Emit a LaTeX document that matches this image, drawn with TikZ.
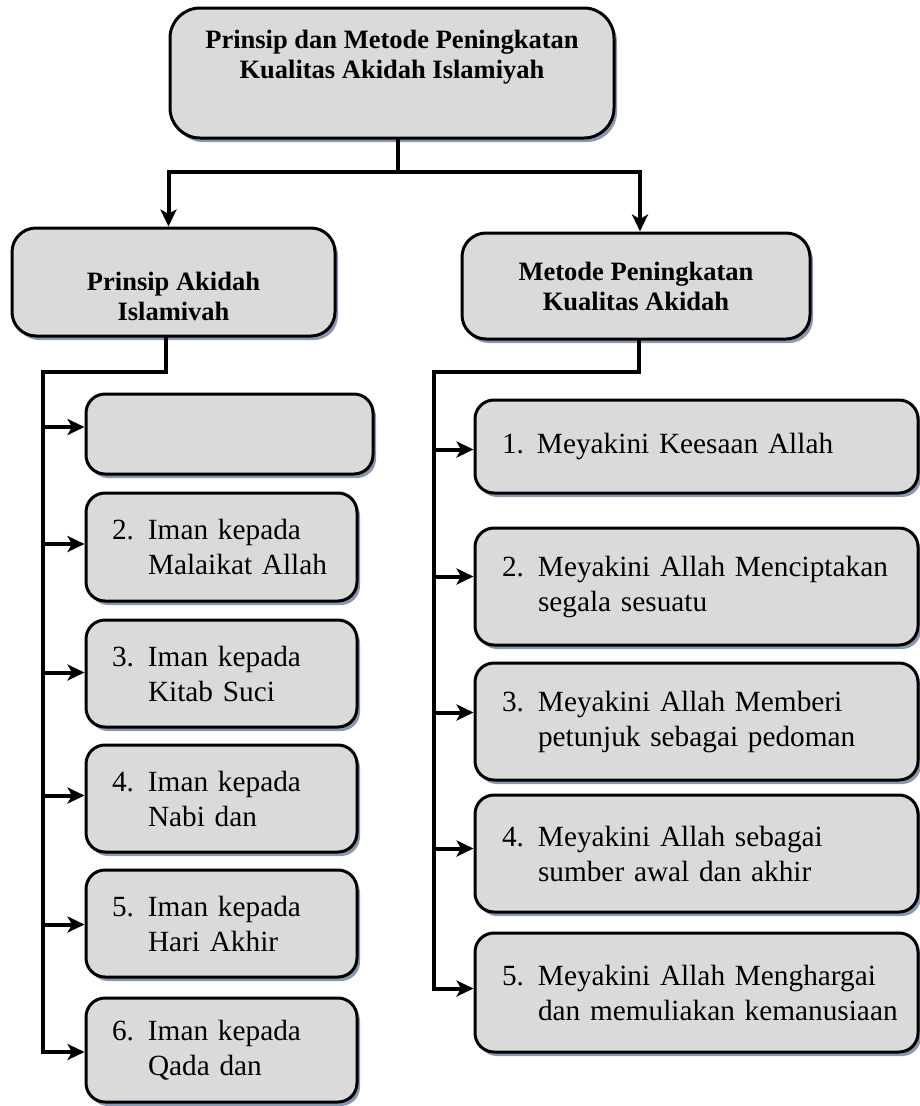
\documentclass[tikz,border=0pt]{standalone}
\usepackage{fontspec}
\setmainfont{Liberation Serif}
\usetikzlibrary{arrows.meta, positioning, shadows, calc}

\definecolor{boxfill}{RGB}{218,218,218}
\definecolor{shadowblue}{RGB}{138,151,176}

% numbered item text with hanging second line
\newcommand{\numone}[2]{\mbox{\makebox[35pt][l]{#1}#2}}
\newcommand{\numtwo}[3]{\mbox{\makebox[36pt][l]{#1}#2}\\\mbox{\hspace*{36pt}#3}}

\begin{document}
\begin{tikzpicture}[x=1pt, y=-1pt,
    box/.style={draw, line width=3pt, fill=boxfill, rounded corners=19pt,
        drop shadow={shadow xshift=3pt, shadow yshift=-4pt, fill=shadowblue, opacity=1}},
    headtext/.style={font=\fontsize{26.5pt}{30pt}\selectfont\bfseries, align=center},
    head/.style={box, headtext, rounded corners=24pt},
    item/.style={box, font=\fontsize{29.3pt}{35pt}\selectfont, align=left},
    conn/.style={line width=4pt, line cap=rect},
    arrowto/.style={-{Stealth[length=17pt, width=16pt, inset=4.5pt]}}]
    \useasboundingbox (0,0) rectangle (920,1106);

    % Title
    \node[box, rounded corners=30pt, minimum width=444pt, minimum height=130pt,
        label={[headtext, yshift=16pt]center:Prinsip dan Metode Peningkatan\\Kualitas Akidah Islamiyah}] (title) at (392,73) {};

    % Headings
    \node[head, minimum width=323pt, minimum height=108pt,
        label={[headtext, yshift=-14pt]center:Prinsip Akidah\\Islamivah}] (prinsip) at (173.5,282) {};
    \node[head, minimum width=348pt, minimum height=106pt] (metode) at (636,286) {Metode Peningkatan\\Kualitas Akidah};

    % Left column
    \node[item, inner xsep=26pt, text width=235pt, minimum height=80pt] (l1) at (229.5,434) {};
    \node[item, inner xsep=26pt, text width=219pt, minimum height=108pt] (l2) at (221.5,547) {\numtwo{2.}{Iman kepada}{Malaikat Allah}};
    \node[item, inner xsep=26pt, text width=219pt, minimum height=107pt] (l3) at (221.5,673.5) {\numtwo{3.}{Iman kepada}{Kitab Suci}};
    \node[item, inner xsep=26pt, text width=219pt, minimum height=107pt] (l4) at (221.5,798.5) {\numtwo{4.}{Iman kepada}{Nabi dan}};
    \node[item, inner xsep=26pt, text width=219pt, minimum height=107pt] (l5) at (221.5,923.5) {\numtwo{5.}{Iman kepada}{Hari Akhir}};
    \node[item, inner xsep=26pt, text width=219pt, minimum height=104pt] (l6) at (221.5,1050) {\numtwo{6.}{Iman kepada}{Qada dan}};

    % Right column
    \node[item, inner xsep=27pt, text width=389pt, minimum height=93pt] (r1) at (696.5,446.5) {\numone{1.}{Meyakini Keesaan Allah}};
    \node[item, inner xsep=27pt, text width=389pt, minimum height=117pt] (r2) at (696.5,586.5) {\numtwo{2.}{Meyakini Allah Menciptakan}{segala sesuatu}};
    \node[item, inner xsep=27pt, text width=389pt, minimum height=117pt] (r3) at (696.5,721.5) {\numtwo{3.}{Meyakini Allah Memberi}{petunjuk sebagai pedoman}};
    \node[item, inner xsep=27pt, text width=389pt, minimum height=117pt] (r4) at (696.5,853.5) {\numtwo{4.}{Meyakini Allah sebagai}{sumber awal dan akhir}};
    \node[item, inner xsep=27pt, text width=389pt, minimum height=119pt] (r5) at (696.5,992.5) {\numtwo{5.}{Meyakini Allah Menghargai}{dan memuliakan kemanusiaan}};

    % Top connectors
    \coordinate (tbus) at (398,172);
    \draw[conn] ([xshift=6pt]title.south) -- (tbus);
    \draw[conn, arrowto] (tbus) -| ([xshift=-5pt]prinsip.north);
    \draw[conn, arrowto] (tbus) -| ([xshift=4pt]metode.north);

    % Left bus
    \coordinate (lbus) at (43,372);
    \foreach \n/\s in {l1/7, l2/3, l3/1, l4/3, l5/-1, l6/-2}{
        \coordinate (\n-in) at ([yshift=\s pt]\n.west);
        \draw[conn, arrowto] (lbus |- \n-in) -- (\n-in);
    }
    \draw[conn] ([xshift=-8pt]prinsip.south) |- (lbus) -- (lbus |- l6-in);

    % Right bus
    \coordinate (rbus) at (434,372);
    \foreach \n/\s in {r1/-3, r2/10, r3/9, r4/5, r5/4}{
        \coordinate (\n-in) at ([yshift=\s pt]\n.west);
        \draw[conn, arrowto] (rbus |- \n-in) -- (\n-in);
    }
    \draw[conn] ([xshift=3pt]metode.south) |- (rbus) -- (rbus |- r5-in);
\end{tikzpicture}
\end{document}
